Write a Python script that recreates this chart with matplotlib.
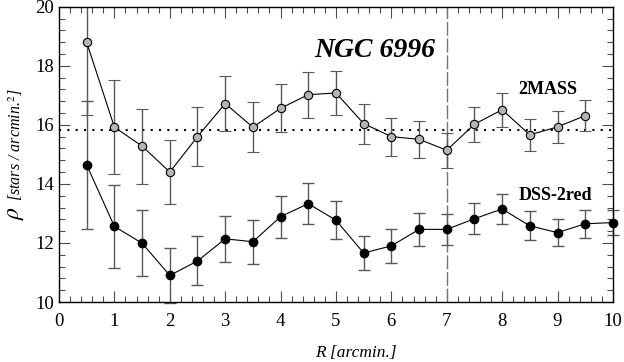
import numpy as np
import matplotlib.pyplot as plt
from matplotlib.ticker import MultipleLocator

plt.rcParams["font.family"] = ["Liberation Serif", "DejaVu Serif"]
plt.rcParams["mathtext.fontset"] = "stix"

# ---------------- data ----------------
r_2mass = [0.5, 1.0, 1.5, 2.0, 2.5, 3.0, 3.5, 4.0, 4.5, 5.0, 5.5, 6.0, 6.5, 7.0, 7.5, 8.0, 8.5, 9.0, 9.5]
rho_2mass = [18.79, 15.92, 15.28, 14.40, 15.60, 16.72, 15.92, 16.56, 17.02, 17.08, 16.04, 15.60, 15.51, 15.14, 16.02, 16.51, 15.66, 15.93, 16.31]
err_2mass = [2.46, 1.60, 1.27, 1.07, 0.99, 0.93, 0.85, 0.81, 0.78, 0.75, 0.68, 0.64, 0.62, 0.59, 0.59, 0.58, 0.55, 0.54, 0.52]

r_dss = [0.5, 1.0, 1.5, 2.0, 2.5, 3.0, 3.5, 4.0, 4.5, 5.0, 5.5, 6.0, 6.5, 7.0, 7.5, 8.0, 8.5, 9.0, 9.5, 10.0]
rho_dss = [14.64, 12.56, 11.99, 10.90, 11.39, 12.14, 12.04, 12.89, 13.33, 12.77, 11.66, 11.90, 12.46, 12.46, 12.82, 13.15, 12.58, 12.35, 12.65, 12.69]
err_dss = [2.17, 1.41, 1.12, 0.92, 0.83, 0.78, 0.74, 0.71, 0.69, 0.64, 0.57, 0.57, 0.55, 0.52, 0.52, 0.51, 0.49, 0.47, 0.47, 0.43]

background = 15.82
r_limit = 7.0

# ---------------- plot ----------------
fig = plt.figure(figsize=(6.24, 3.62), dpi=100)
ax = fig.add_axes([0.0946, 0.1657, 0.8876, 0.8158])

ax.axhline(background, color="black", lw=1.5, dashes=(1, 3))
ax.axvline(r_limit, color="0.45", lw=1, dashes=(10, 2))

ax.errorbar(r_2mass, rho_2mass, yerr=err_2mass, fmt="o-", color="black", lw=0.8,
            ms=6, mfc="#b4b4b4", mec="black", mew=0.8,
            ecolor="0.35", elinewidth=1, capsize=4, capthick=1)
ax.errorbar(r_dss, rho_dss, yerr=err_dss, fmt="o-", color="black", lw=0.8,
            ms=6, mfc="black", mec="black",
            ecolor="0.35", elinewidth=1, capsize=4, capthick=1, clip_on=False)

ax.text(5.7, 18.53, "NGC 6996", fontsize=20, fontweight="bold", style="italic",
        ha="center", va="center")
ax.text(8.29, 17.18, "2MASS", fontsize=13, fontweight="bold", ha="left", va="center")
ax.text(8.29, 13.62, "DSS-2red", fontsize=13, fontweight="bold", ha="left", va="center")

ax.set_xlim(0, 10)
ax.set_ylim(10, 20)
ax.xaxis.set_major_locator(MultipleLocator(1))
ax.xaxis.set_minor_locator(MultipleLocator(0.2))
ax.yaxis.set_major_locator(MultipleLocator(2))
ax.yaxis.set_minor_locator(MultipleLocator(0.4))
ax.tick_params(which="both", direction="in", top=True, right=True, labelsize=13.5, width=0.8, color="0.3")
ax.tick_params(which="major", length=8)
ax.tick_params(which="minor", length=4)
ax.tick_params(axis="x", pad=8)

ax.set_xlabel("R [arcmin.]", fontsize=12.5, style="italic", va="center")
ax.xaxis.set_label_coords(0.536, -0.173)
# y label: large rho plus smaller italic unit text
ax.text(-0.079, 0.30, r"$\rho$", fontsize=17, rotation=90, ha="center", va="center",
        transform=ax.transAxes)
ax.text(-0.079, 0.535, r"[stars / arcmin.$^2$]", fontsize=11.5, style="italic", rotation=90,
        ha="center", va="center", transform=ax.transAxes)

for s in ax.spines.values():
    s.set_linewidth(1)

fig.savefig("out.png", dpi=100)
